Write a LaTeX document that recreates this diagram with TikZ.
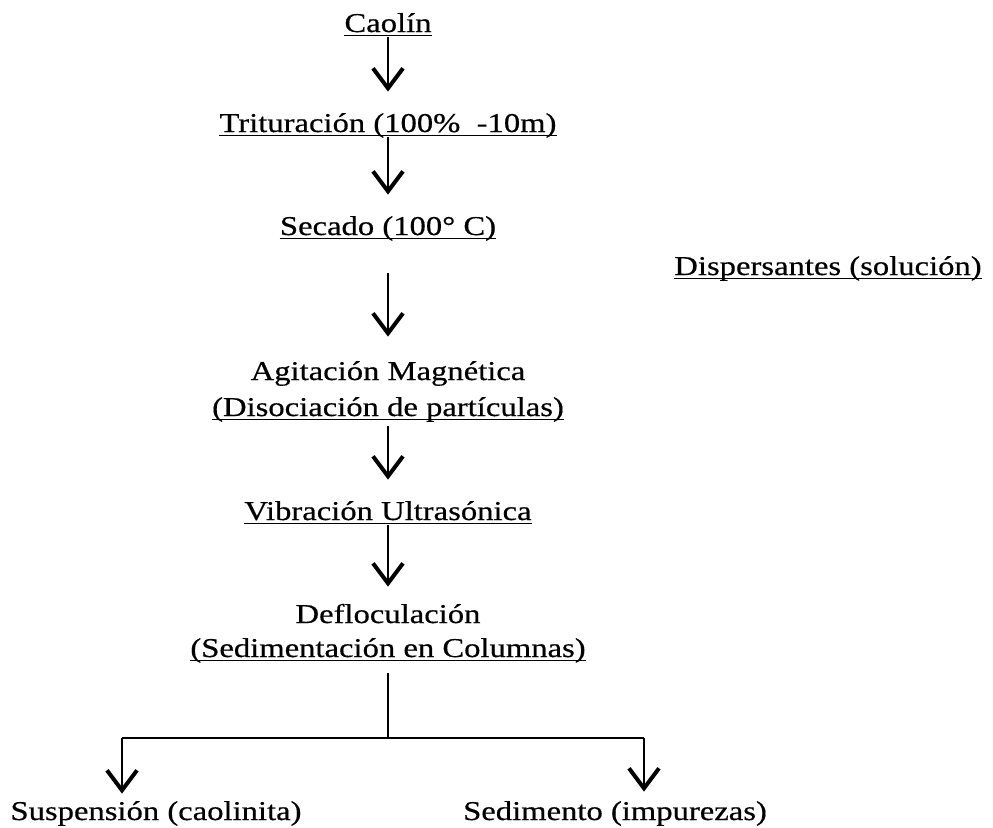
\documentclass[tikz,border=0pt]{standalone}
\usepackage{fontspec}
\setmainfont{Liberation Serif}[FakeStretch=1.2, FakeBold=0.5]
\usetikzlibrary{arrows.meta}
\tikzset{
  paso/.style={inner sep=0pt, anchor=base, text height=9pt, text depth=1.5pt,
    font=\fontsize{13.6}{16}\selectfont},
  flecha/.style={line width=1pt, shorten <=1pt, shorten >=11pt,
    -{Straight Barb[length=10pt,width=15pt,line width=2pt]}},
  raya/.style={line width=0.8pt},
}
\begin{document}
\begin{tikzpicture}[x=0.5pt, y=-0.5pt]
            \useasboundingbox (0,0) rectangle (993,827);
            % pasos del proceso
            \node[paso] (cao) at (388,32) {Caolín};
            \node[paso] (tri) at (388,132) {Trituración (100\%~~-10m)};
            \node[paso] (sec) at (388,235) {Secado (100° C)};
            \node[paso] (dis) at (828,275) {Dispersantes (solución)};
            \node[paso] (ag1) at (388,380) {Agitación Magnética};
            \node[paso] (ag2) at (388,416) {(Disociación de partículas)};
            \node[paso] (vib) at (388,520) {Vibración Ultrasónica};
            \node[paso] (def) at (388,623) {Defloculación};
            \node[paso] (sed) at (388,657) {(Sedimentación en Columnas)};
            \node[paso] (susp) at (156,820) {Suspensión (caolinita)};
            \node[paso] (sedi) at (615,820) {Sedimento (impurezas)};
            % subrayados
            \foreach \n in {cao,tri,sec,dis,ag2,vib,sed}
                \draw[raya] (\n.south west) -- (\n.south east);
            % flechas
            \draw[flecha] (cao.south) -- (tri.north);
            \draw[flecha] (tri.south) -- (sec.north);
            \draw[flecha, shorten <=17.5pt, shorten >=12.5pt] (sec.south) -- (ag1.north);
            \draw[flecha, shorten <=3.5pt] (ag2.south) -- (vib.north);
            \draw[flecha, shorten >=9pt] (vib.south) -- (def.north);
            % separacion
            \coordinate (rama) at (388,738);
            \coordinate (izq) at (122,738);
            \coordinate (der) at (644,738);
            \draw[line width=1pt, shorten <=6.5pt] (sed.south) -- (rama);
            \draw[line width=1.3pt] (izq) -- (der);
            \draw[flecha, shorten <=0pt, shorten >=4pt] (izq) -- (izq |- susp.north);
            \draw[flecha, shorten <=0pt, shorten >=5pt] (der) -- (der |- sedi.north);
        \end{tikzpicture}
\end{document}
